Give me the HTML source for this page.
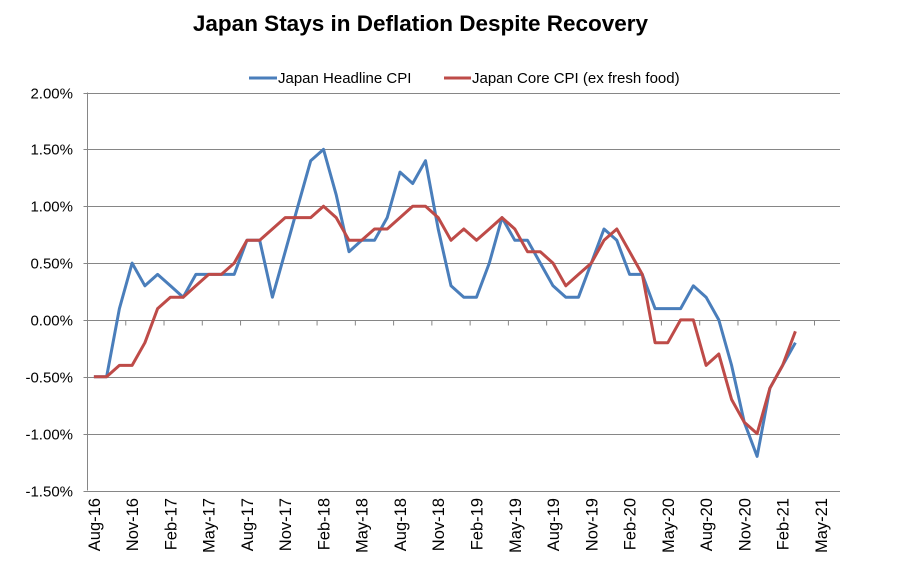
<!DOCTYPE html>
<html><head><meta charset="utf-8"><style>
body{margin:0;background:#fff;width:900px;height:571px;overflow:hidden;font-family:"Liberation Sans",Arial,sans-serif;}
</style></head><body>
<svg id="chart" width="900" height="571" xmlns="http://www.w3.org/2000/svg" font-family="Liberation Sans, Arial, sans-serif">
<text x="420.5" y="31" text-anchor="middle" font-size="22.5" font-weight="bold">Japan Stays in Deflation Despite Recovery</text>
<g>
<line x1="249" y1="78" x2="277" y2="78" stroke="#4a7ebb" stroke-width="3"/>
<text x="278" y="83" font-size="15">Japan Headline CPI</text>
<line x1="444" y1="78" x2="471" y2="78" stroke="#be4b48" stroke-width="3"/>
<text x="472" y="83" font-size="15">Japan Core CPI (ex fresh food)</text>
</g>
<g id="grid"></g><g id="axes"></g><g id="series"></g>
</svg>
<script>
const months = ["Aug-16","Sep-16","Oct-16","Nov-16","Dec-16","Jan-17","Feb-17","Mar-17","Apr-17","May-17","Jun-17","Jul-17","Aug-17","Sep-17","Oct-17","Nov-17","Dec-17","Jan-18","Feb-18","Mar-18","Apr-18","May-18","Jun-18","Jul-18","Aug-18","Sep-18","Oct-18","Nov-18","Dec-18","Jan-19","Feb-19","Mar-19","Apr-19","May-19","Jun-19","Jul-19","Aug-19","Sep-19","Oct-19","Nov-19","Dec-19","Jan-20","Feb-20","Mar-20","Apr-20","May-20","Jun-20","Jul-20","Aug-20","Sep-20","Oct-20","Nov-20","Dec-20","Jan-21","Feb-21","Mar-21","Apr-21","May-21","Jun-21"];
const headline = [-0.5,-0.5,0.1,0.5,0.3,0.4,0.3,0.2,0.4,0.4,0.4,0.4,0.7,0.7,0.2,0.6,1.0,1.4,1.5,1.1,0.6,0.7,0.7,0.9,1.3,1.2,1.4,0.8,0.3,0.2,0.2,0.5,0.9,0.7,0.7,0.5,0.3,0.2,0.2,0.5,0.8,0.7,0.4,0.4,0.1,0.1,0.1,0.3,0.2,0.0,-0.4,-0.9,-1.2,-0.6,-0.4,-0.2];
const core = [-0.5,-0.5,-0.4,-0.4,-0.2,0.1,0.2,0.2,0.3,0.4,0.4,0.5,0.7,0.7,0.8,0.9,0.9,0.9,1.0,0.9,0.7,0.7,0.8,0.8,0.9,1.0,1.0,0.9,0.7,0.8,0.7,0.8,0.9,0.8,0.6,0.6,0.5,0.3,0.4,0.5,0.7,0.8,0.6,0.4,-0.2,-0.2,0.0,0.0,-0.4,-0.3,-0.7,-0.9,-1.0,-0.6,-0.4,-0.1];
const yTicks = [2.0,1.5,1.0,0.5,0.0,-0.5,-1.0,-1.5];
const yTickLabels = ["2.00%","1.50%","1.00%","0.50%","0.00%","-0.50%","-1.00%","-1.50%"];

const NS="http://www.w3.org/2000/svg";
const L=87.5,R=840,T=92.5,B=490.5,yMax=2.0,yMin=-1.5;
const cw=(R-L)/months.length;
const xPos=i=>L+cw*(i+0.5);
const yPos=v=>T+(yMax-v)/(yMax-yMin)*(B-T);
function mk(tag,attrs,parent){const e=document.createElementNS(NS,tag);for(const k in attrs)e.setAttribute(k,attrs[k]);parent.appendChild(e);return e;}
const grid=document.getElementById('grid'),axes=document.getElementById('axes'),series=document.getElementById('series');
yTicks.forEach((v,i)=>{
  const y=Math.round(yPos(v))+0.5;
  const g=mk('line',{x1:L-4,x2:R,y1:y,y2:y,stroke:'#868686','stroke-width':1},grid);
  
  
  const t=mk('text',{x:73,y:y+5,'text-anchor':'end','font-size':15},axes);
  t.textContent=yTickLabels[i];
  
  
});
const ya=mk('line',{x1:L,x2:L,y1:T,y2:B,stroke:'#868686','stroke-width':1},axes);


const y0=Math.round(yPos(0))+0.5;
for(let i=3;i<months.length;i+=3){
  const x=L+cw*i;
  const tk=mk('line',{x1:x,x2:x,y1:y0,y2:y0+5,stroke:'#868686','stroke-width':1},axes);
  
  
}
for(let i=0;i<months.length;i+=3){
  const x=xPos(i)+6,y=498;
  const t=mk('text',{x:x,y:y,'text-anchor':'end','font-size':16.5,transform:`rotate(-90 ${x} ${y})`},axes);
  t.textContent=months[i];
  
  
}
function line(data,color,name){
  const d=data.map((v,i)=>(i?'L':'M')+xPos(i).toFixed(1)+' '+yPos(v).toFixed(1)).join(' ');
  const p=mk('path',{d:d,fill:'none',stroke:color,'stroke-width':3,'stroke-linejoin':'round'},series);
  
  
}
line(headline,'#4a7ebb','headline-cpi-line');
line(core,'#be4b48','core-cpi-line');
</script>
</body></html>
